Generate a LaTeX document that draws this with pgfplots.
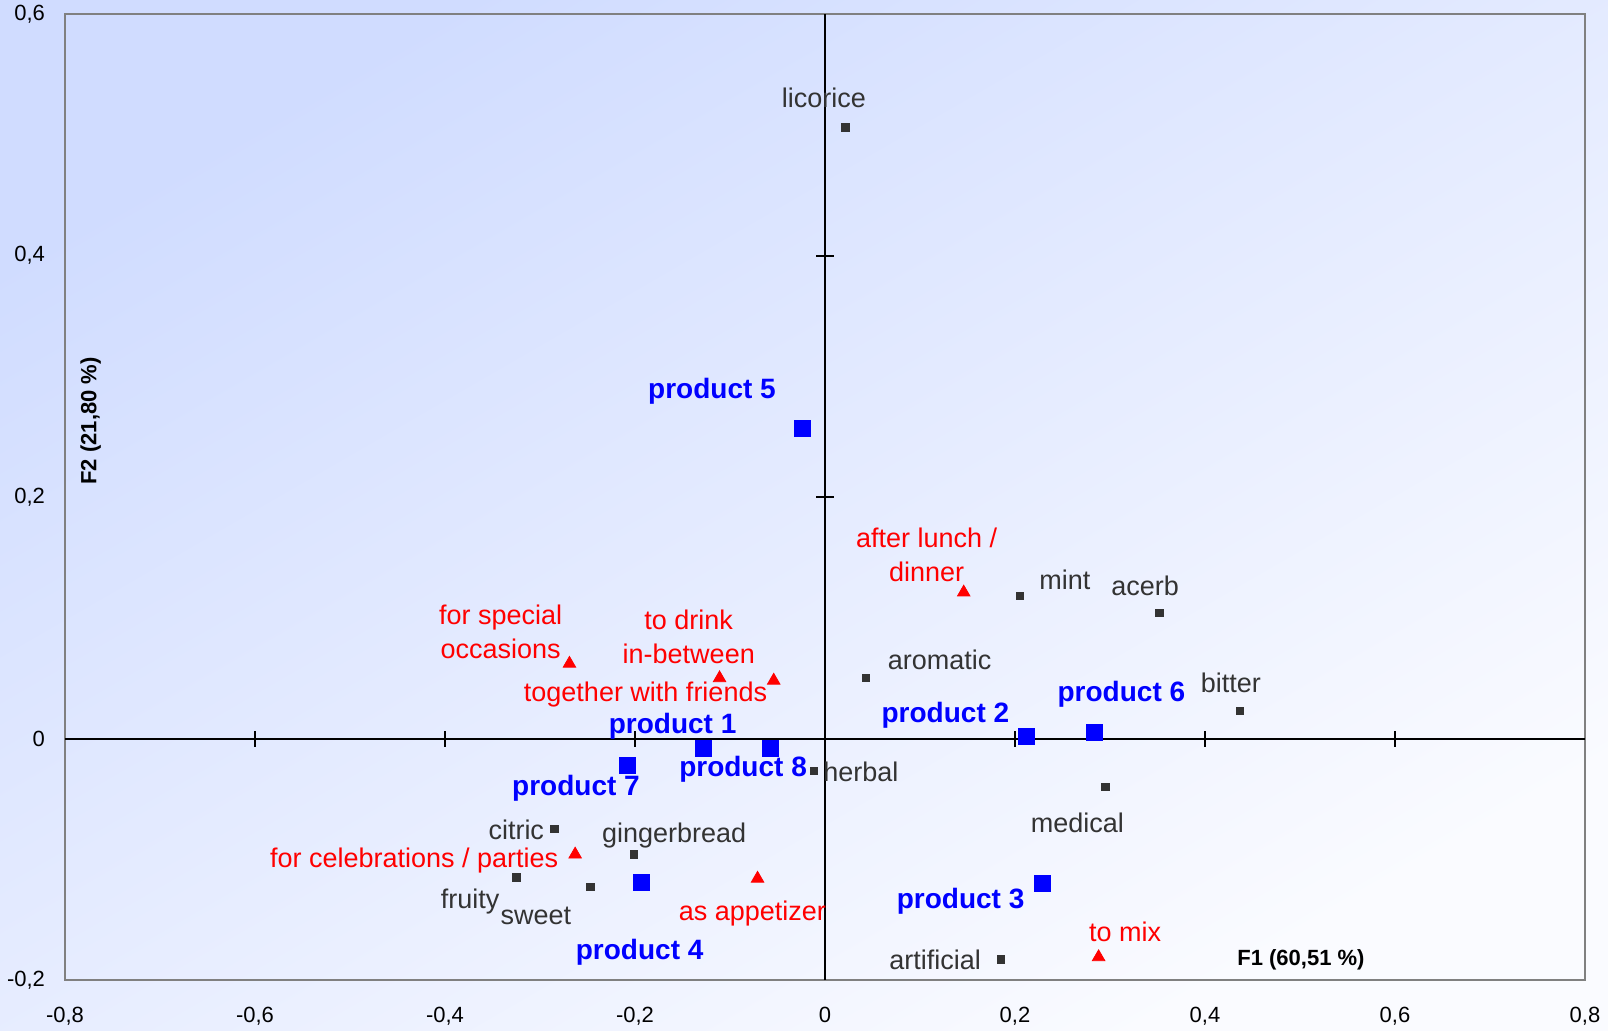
\documentclass[border=0pt]{standalone}
\usepackage{pgfplots}
\usepackage{pgfplotstable}
\pgfplotsset{compat=1.18}
\usepackage{fontspec}
\setmainfont{Liberation Sans}

\definecolor{labgray}{HTML}{333333}
\definecolor{framegray}{HTML}{808080}
\definecolor{bgtl}{RGB}{208,220,255}
\definecolor{bgbr}{RGB}{250,251,255}

% x, y, label, label shift (pt)
\pgfplotstableread[col sep=comma]{
x,y,lab,dx,dy
0.0216,0.506,licorice,-10.8,14.9
0.205,0.118,mint,22.6,8.2
0.352,0.104,acerb,-7.2,13.3
0.043,0.050,aromatic,36.9,9.2
0.437,0.023,bitter,-4.6,13.9
-0.012,-0.027,herbal,23.6,-0.5
0.295,-0.040,medical,-13.9,-18
-0.285,-0.075,citric,-19,-0.5
-0.201,-0.096,gingerbread,20,9.7
-0.325,-0.115,fruity,-23.1,-12.3
-0.247,-0.123,sweet,-27.2,-14.4
0.185,-0.183,artificial,-32.8,0
}\attribs
\pgfplotstableread[col sep=comma]{
x,y,lab,dx,dy
0.146,0.121,{after lunch /\\dinner},-18.5,19
-0.269,0.062,{for special\\occasions},-34.4,15.9
-0.111,0.050,{to drink\\in-between},-15.4,20.5
-0.054,0.048,together with friends,-64.1,-7.2
-0.263,-0.096,for celebrations / parties,-80.5,-3.1
-0.071,-0.116,as appetizer,-2.6,-17.4
0.288,-0.181,to mix,13.3,12.8
}\uses
\pgfplotstableread[col sep=comma]{
x,y,lab,dx,dy
-0.024,0.257,product 5,-45.1,18.5
0.212,0.002,product 2,-40.5,10.3
0.284,0.005,product 6,13.3,19
-0.128,-0.008,product 1,-15.4,10.8
-0.057,-0.008,product 8,-13.9,-10.3
-0.208,-0.022,product 7,-25.7,-11.8
-0.193,-0.119,product 4,-1,-34.9
0.229,-0.120,product 3,-41,-8.7
}\products

\begin{document}
\begin{tikzpicture}
\useasboundingbox (-32.5pt,-25pt) rectangle (771.5pt,490pt);
\shade[top color=bgtl, bottom color=bgbr, shading angle=30]
  (-32.5pt,-25pt) rectangle (771.5pt,490pt);
\begin{axis}[
    scale only axis,
    width=760pt, height=483pt,
    xmin=-0.8, xmax=0.8, ymin=-0.2, ymax=0.6,
    xtick={-0.8,-0.6,...,0.8},
    ytick={-0.2,0,0.2,0.4,0.6},
    major tick length=0pt,
    axis line style={draw=framegray, line width=0.75pt},
    tick label style={font=\fontsize{11}{13}\selectfont, black},
    xticklabel style={yshift=-9.8pt},
    yticklabel style={xshift=-6.5pt},
    /pgf/number format/.cd, fixed, precision=1, use comma, assume math mode=true,
    /pgfplots/.cd,
    clip=false,
    point meta=explicit symbolic,
    nodes near coords,
    nodes near coords align={anchor=center},
    visualization depends on={\thisrow{dx}\as\dx},
    visualization depends on={\thisrow{dy}\as\dy},
    every node near coord/.append style={anchor=center, xshift=\dx pt, yshift=\dy pt, align=center, inner sep=0pt},
]
% zero lines with their ticks
\draw[black, line width=1pt] (axis cs:-0.8,0) -- (axis cs:0.8,0);
\draw[black, line width=1pt] (axis cs:0,-0.2) -- (axis cs:0,0.6);
\pgfplotsinvokeforeach{-0.6,-0.4,-0.2,0.2,0.4,0.6}{
  \draw[black, line width=1pt] ([yshift=-4pt]axis cs:#1,0) -- ([yshift=4pt]axis cs:#1,0);
}
\pgfplotsinvokeforeach{0.2,0.4}{
  \draw[black, line width=1pt] ([xshift=-4.5pt]axis cs:0,#1) -- ([xshift=4.5pt]axis cs:0,#1);
}

\addplot[only marks, mark=square*, mark size=1.85pt, color=labgray,
  every node near coord/.append style={font=\fontsize{13.5}{17}\selectfont, text=labgray}]
  table[meta=lab] {\attribs};

\addplot[only marks, mark=triangle*, mark size=3.6pt, color=red,
  every node near coord/.append style={font=\fontsize{13.5}{17}\selectfont, text=red}]
  table[meta=lab] {\uses};

\addplot[only marks, mark=square*, mark size=4pt, color=blue,
  every node near coord/.append style={font=\fontsize{14}{17}\selectfont\bfseries, text=blue}]
  table[meta=lab] {\products};

\node[font=\fontsize{11}{13}\selectfont\bfseries] at (axis cs:0.501,-0.183) {F1 (60,51 \%)};
\node[font=\fontsize{11}{13}\selectfont\bfseries, rotate=90] at (axis cs:-0.773,0.263) {F2 (21,80 \%)};
\end{axis}
\end{tikzpicture}
\end{document}
